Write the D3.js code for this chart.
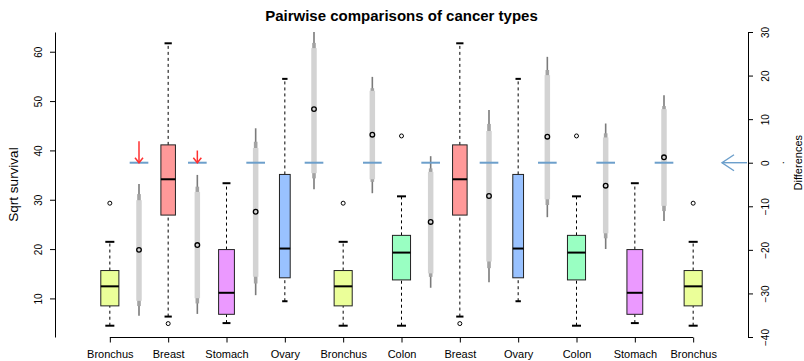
<!DOCTYPE html>
<html>
<head>
<meta charset="utf-8">
<script src="https://cdn.jsdelivr.net/npm/d3@7"></script>
<style>
  body { margin: 0; background: #fff; }
  svg { display: block; font-family: "Liberation Sans", Arial, sans-serif; }
</style>
</head>
<body>
<div id="chart"></div>
<script>
// groups (alphabetical, as in the fill palette)
const organs = ["Breast", "Bronchus", "Colon", "Ovary", "Stomach"];
const organColors = ["#FF9999", "#EBFF99", "#99FFC2", "#99C2FF", "#EB99FF"];
const groupSize = [11, 17, 17, 6, 13];
// boxplot stats of sqrt survival
const whiskerLow = [6.32, 4.47, 4.47, 9.43, 5.0];
const hingeLow = [26.89, 8.49, 13.75, 14.18, 6.78];
const medians = [34.15, 12.45, 19.29, 20.11, 11.14];
const hingeHigh = [41.12, 15.65, 22.78, 35.13, 19.9];
const whiskerHigh = [61.71, 21.47, 30.69, 54.5, 33.35];
const outliers = [[4.9], [29.3], [42.93], [], []];

// order of the boxes along the x axis
const sequence = ["Bronchus", "Breast", "Stomach", "Ovary", "Bronchus", "Colon",
                  "Breast", "Ovary", "Colon", "Stomach", "Bronchus"];

// pairwise differences between neighbours (right axis)
const diffMean = [-20.0, -18.9, -11.25, 12.3, 6.43, -13.6, -7.64, 5.97, -5.28, 1.24];
const outerLo = [-35.1, -34.7, -30.4, -6.1, -7.0, -28.7, -27.45, -12.5, -19.8, -13.4];
const outerHi = [-4.9, -2.8, 7.9, 30.7, 19.7, 1.5, 12.1, 24.3, 9.0, 15.5];
const midLo = [-32.9, -32.3, -27.7, -3.6, -4.4, -26.2, -24.2, -9.7, -17.35, -11.1];
const midHi = [-7.2, -5.5, 4.8, 27.5, 17.1, -1.3, 8.9, 21.3, 6.75, 13.0];
const innerLo = [-31.7, -31.1, -26.2, -2.4, -3.8, -25.4, -22.7, -8.4, -16.2, -9.9];
const innerHi = [-8.6, -6.7, 3.4, 26.3, 16.5, -2.1, 7.3, 20.1, 5.8, 12.3];

const leftTicks = [10, 20, 30, 40, 50, 60];
const rightTicks = [-40, -30, -20, -10, 0, 10, 20, 30];

var width = 804, height = 361;
var margin = { top: 32, right: 56, bottom: 24, left: 55 };
var pw = width - margin.left - margin.right,
    ph = height - margin.top - margin.bottom;

var svg = d3.select('#chart').append('svg')
    .attr('width', width)
    .attr('height', height);

var g = svg.append('g')
    .attr('transform', `translate(${margin.left},${margin.top})`);

var n = sequence.length;
var pad = 0.04 * n;
var x = d3.scaleLinear().domain([0.5 - pad, n + 0.5 + pad]).range([0, pw]);

var allVals = whiskerLow.concat(whiskerHigh, outliers.flat());
var ext = d3.extent(allVals);
var ypad = (ext[1] - ext[0]) * 0.04;
var yL = d3.scaleLinear().domain([ext[0] - ypad, ext[1] + ypad]).range([ph, 0]);
var yR = d3.scaleLinear().domain([-40, 30]).range([ph, 0]);

svg.append('defs').append('clipPath').attr('id', 'plotclip')
    .append('rect').attr('width', pw).attr('height', ph);

var maxRoot = Math.sqrt(d3.max(groupSize));
var boxW = (k) => x(0.31 * Math.sqrt(groupSize[k]) / maxRoot) - x(0);

// difference intervals
var diffs = diffMean.map((m, i) => ({
    pos: i + 1.5, mean: m,
    oLo: outerLo[i], oHi: outerHi[i],
    mLo: midLo[i], mHi: midHi[i],
    iLo: innerLo[i], iHi: innerHi[i]
}));

var dg = g.append('g').attr('clip-path', 'url(#plotclip)');

dg.selectAll('line.outer').data(diffs).enter().append('line')
    .attr('class', 'outer')
    .attr('x1', d => x(d.pos)).attr('x2', d => x(d.pos))
    .attr('y1', d => yR(d.oLo)).attr('y2', d => yR(d.oHi))
    .attr('stroke', '#7a7a7a').attr('stroke-width', 1.6);

dg.selectAll('line.mid').data(diffs).enter().append('line')
    .attr('class', 'mid')
    .attr('x1', d => x(d.pos)).attr('x2', d => x(d.pos))
    .attr('y1', d => yR(d.mLo)).attr('y2', d => yR(d.mHi))
    .attr('stroke', '#a3a3a3').attr('stroke-width', 3.6);

dg.selectAll('line.inner').data(diffs).enter().append('line')
    .attr('class', 'inner')
    .attr('x1', d => x(d.pos)).attr('x2', d => x(d.pos))
    .attr('y1', d => yR(d.iLo)).attr('y2', d => yR(d.iHi))
    .attr('stroke', '#d3d3d3').attr('stroke-width', 5.5);

// zero reference
dg.selectAll('line.zero').data(diffs).enter().append('line')
    .attr('class', 'zero')
    .attr('x1', d => x(d.pos - 0.16)).attr('x2', d => x(d.pos + 0.16))
    .attr('y1', yR(0)).attr('y2', yR(0))
    .attr('stroke', '#6c9fcb').attr('stroke-width', 2);

dg.selectAll('circle.mean').data(diffs).enter().append('circle')
    .attr('class', 'mean')
    .attr('cx', d => x(d.pos)).attr('cy', d => yR(d.mean))
    .attr('r', 2.3)
    .attr('fill', 'none').attr('stroke', '#000').attr('stroke-width', 1.3);

// red arrows where the interval misses zero
var sig = diffs.filter(d => d.oHi < 0 || d.oLo > 0);
var arrows = g.append('g').attr('stroke', '#ff3030').attr('stroke-width', 1.5).attr('fill', 'none');
sig.forEach(function(d) {
    var gap = d.oHi < 0 ? -d.oHi : -d.oLo;
    var cx = x(d.pos), tip = yR(0), start = yR(gap);
    arrows.append('line').attr('x1', cx).attr('x2', cx).attr('y1', start).attr('y2', tip);
    arrows.append('path').attr('d', `M${cx - 4},${tip - 5}L${cx},${tip}L${cx + 4},${tip - 5}`);
});

// boxplots
var boxes = sequence.map((name, i) => {
    var k = organs.indexOf(name);
    return { pos: i + 1, k: k, name: name };
});

var bg = g.append('g');
boxes.forEach(function(b) {
    var k = b.k, cx = x(b.pos), w = boxW(k);
    var box = bg.append('g');
    box.append('line')
        .attr('x1', cx).attr('x2', cx)
        .attr('y1', yL(whiskerLow[k])).attr('y2', yL(hingeLow[k]))
        .attr('stroke', '#000').attr('stroke-dasharray', '3,3');
    box.append('line')
        .attr('x1', cx).attr('x2', cx)
        .attr('y1', yL(hingeHigh[k])).attr('y2', yL(whiskerHigh[k]))
        .attr('stroke', '#000').attr('stroke-dasharray', '3,3');
    [whiskerLow[k], whiskerHigh[k]].forEach(function(v) {
        box.append('line')
            .attr('x1', cx - w / 4).attr('x2', cx + w / 4)
            .attr('y1', yL(v)).attr('y2', yL(v))
            .attr('stroke', '#000').attr('stroke-width', 2);
    });
    box.append('rect')
        .attr('x', cx - w / 2).attr('width', w)
        .attr('y', yL(hingeHigh[k])).attr('height', yL(hingeLow[k]) - yL(hingeHigh[k]))
        .attr('fill', organColors[k]).attr('stroke', '#222').attr('stroke-width', 1);
    box.append('line')
        .attr('x1', cx - w / 2).attr('x2', cx + w / 2)
        .attr('y1', yL(medians[k])).attr('y2', yL(medians[k]))
        .attr('stroke', '#000').attr('stroke-width', 2);
    box.selectAll('circle').data(outliers[k]).enter().append('circle')
        .attr('cx', cx).attr('cy', d => yL(d)).attr('r', 2)
        .attr('fill', 'none').attr('stroke', '#000').attr('stroke-width', 1);
});

// axes
var axL = g.append('g')
    .call(d3.axisLeft(yL).tickValues(leftTicks).tickSize(5).tickSizeOuter(0).tickFormat(d3.format('d')));
axL.selectAll('text')
    .attr('x', null).attr('dy', null)
    .attr('text-anchor', 'middle')
    .attr('transform', 'translate(-13.5,0) rotate(-90)');

var axR = g.append('g')
    .attr('transform', `translate(${pw},0)`)
    .call(d3.axisRight(yR).tickValues(rightTicks).tickSize(5).tickSizeOuter(0).tickFormat(d3.format('d')));
axR.selectAll('text')
    .attr('x', null).attr('dy', null)
    .attr('text-anchor', 'middle')
    .attr('transform', 'translate(21,0) rotate(-90)');

var axB = g.append('g')
    .attr('transform', `translate(0,${ph + 0.5})`)
    .call(d3.axisBottom(x).tickValues(d3.range(1, n + 1)).tickSize(5)
        .tickFormat(i => sequence[i - 1]));
axB.select('.domain').attr('d', `M${x(1)},0H${x(n)}`);
axB.selectAll('text').attr('y', 20.5).attr('dy', null);

[axL, axR, axB].forEach(function(a) {
    a.attr('font-family', null).attr('font-size', null);
    a.selectAll('text').style('font-size', '10px').attr('fill', '#000');
    a.selectAll('line, path').attr('stroke', '#000');
});
axB.selectAll('text').style('font-size', '11px');

// blue arrow pointing at zero on the right axis
var ax0 = margin.left + pw, ay0 = margin.top + yR(0);
var blue = svg.append('g').attr('stroke', '#6c9fcb').attr('stroke-width', 1.4).attr('fill', 'none');
blue.append('line').attr('x1', ax0 - 26).attr('x2', ax0 - 1).attr('y1', ay0).attr('y2', ay0);
blue.append('path').attr('d', `M${ax0 - 14},${ay0 - 8}L${ax0 - 26},${ay0}L${ax0 - 14},${ay0 + 8}`);

// titles
svg.append('text')
    .attr('x', margin.left + pw / 2).attr('y', 21)
    .attr('text-anchor', 'middle')
    .style('font-size', '15px').style('font-weight', 'bold')
    .text('Pairwise comparisons of cancer types');

svg.append('text')
    .attr('transform', `translate(18,${margin.top + ph / 2}) rotate(-90)`)
    .attr('text-anchor', 'middle')
    .style('font-size', '13.5px')
    .text('Sqrt survival');

svg.append('text')
    .attr('transform', `translate(802,${ay0}) rotate(-90)`)
    .attr('text-anchor', 'middle')
    .style('font-size', '11px')
    .text('Differences');

svg.append('text')
    .attr('transform', `translate(784,${ay0}) rotate(-90)`)
    .attr('text-anchor', 'middle')
    .style('font-size', '11px')
    .text('.');
</script>
</body>
</html>
